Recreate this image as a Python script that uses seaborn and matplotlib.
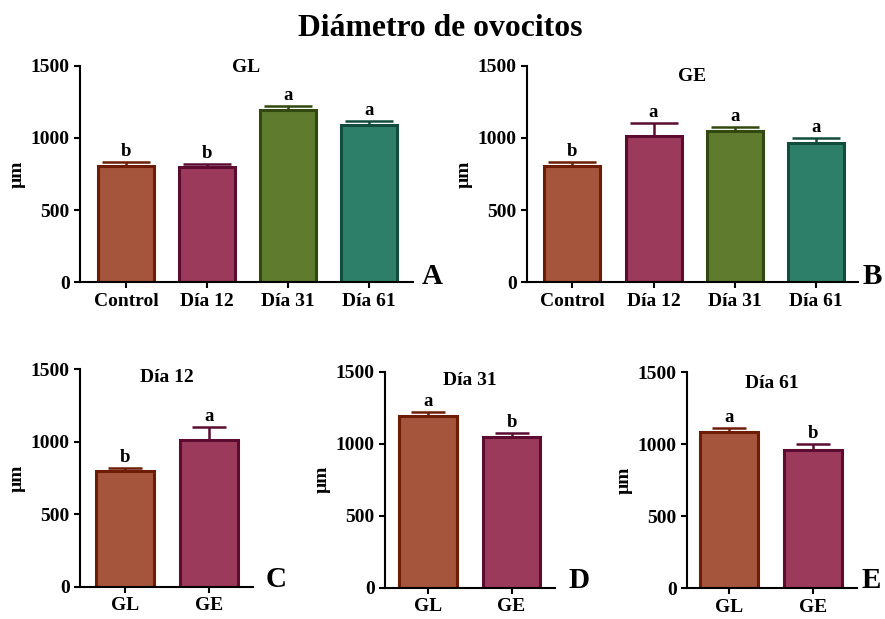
import numpy as np
import pandas as pd
import matplotlib
matplotlib.use("Agg")
import matplotlib.pyplot as plt
import seaborn as sns

# Datos (diametro medio de ovocitos, um)
dias = ["Control", "Día 12", "Día 31", "Día 61"]
gl_media = [805, 797, 1190, 1088]
gl_error = [30, 20, 32, 28]
gl_letras = ["b", "b", "a", "a"]
ge_media = [805, 1015, 1045, 962]
ge_error = [30, 85, 30, 40]
ge_letras = ["b", "a", "a", "a"]

grupos = ["GL", "GE"]
comparaciones = ["Día 12", "Día 31", "Día 61"]
comp_letras = [["b", "a"], ["a", "b"], ["a", "b"]]

# estilo
FILL = ["#A4553B", "#9C3A5C", "#5F7B2E", "#2E7F69"]
EDGE = ["#6E1C05", "#5B0C30", "#31480F", "#124C3C"]
FS = 14

sns.set_style("ticks")
plt.rcParams['font.family'] = ['Liberation Serif', 'DejaVu Serif']
plt.rcParams['font.weight'] = 'bold'
plt.rcParams['text.color'] = 'black'
plt.rcParams['axes.labelcolor'] = 'black'
plt.rcParams['xtick.color'] = 'black'
plt.rcParams['ytick.color'] = 'black'


def draw_panel(ax, cats, medias, errores, letras, fills, edges, titulo, xlim,
               capsize, width_px, title_y=0.99):
    df = pd.DataFrame({"cat": cats, "val": medias})
    sns.barplot(data=df, x="cat", y="val", hue="cat", palette=fills,
                legend=False, ax=ax, width=0.69, saturation=1,
                linewidth=2.2, errorbar=None)
    for patch, ec in zip(ax.patches, edges):
        patch.set_edgecolor(ec)
        patch.set_zorder(2)
    for i, (m, e, l) in enumerate(zip(medias, errores, letras)):
        ax.errorbar(i, m, yerr=[[0], [e]], color=edges[i], capsize=capsize,
                    elinewidth=1.8, capthick=1.8, zorder=1, fmt="none")
        ax.annotate(l, (i, m + e), xytext=(0, 1.5), textcoords="offset points",
                    ha="center", va="bottom", fontsize=13.5, fontweight="bold")
    ax.set_ylim(0, 1500)
    ax.set_xlim(*xlim)
    ax.set_yticks([0, 500, 1000, 1500])
    ax.set_xlabel("")
    ax.set_ylabel("µm", fontsize=14, fontweight="bold")
    ax.yaxis.set_label_coords(-54 / width_px, 0.5)
    ax.tick_params(axis="both", labelsize=FS, width=1.5, length=4.5, pad=3)
    for lab in ax.get_xticklabels() + ax.get_yticklabels():
        lab.set_fontweight("bold")
    sns.despine(ax=ax)
    for s in ["left", "bottom"]:
        ax.spines[s].set_linewidth(1.5)
        ax.spines[s].set_color("black")
    ax.text(0.5, title_y, titulo, transform=ax.transAxes, ha="center",
            va="center", fontsize=FS, fontweight="bold")


W, H = 885, 619
fig = plt.figure(figsize=(W / 100, H / 100), dpi=100)


def px_axes(left, right, top, bottom):
    return fig.add_axes([left / W, (H - bottom) / H, (right - left) / W,
                         (bottom - top) / H])


axA = px_axes(80, 413, 65.7, 282.3)
axB = px_axes(527, 858, 65.7, 282.3)
axC = px_axes(80, 253, 369.3, 586.7)
axD = px_axes(385, 555, 371.7, 587.7)
axE = px_axes(687, 857, 372.3, 588.3)

draw_panel(axA, dias, gl_media, gl_error, gl_letras, FILL, EDGE, "GL",
           (-0.57, 3.54), 17, 333, title_y=0.99)
draw_panel(axB, dias, ge_media, ge_error, ge_letras, FILL, EDGE, "GE",
           (-0.56, 3.52), 17, 331, title_y=0.948)

for ax, dia, letras, xl, wpx, ty in zip([axC, axD, axE], comparaciones, comp_letras,
                                        [(-0.54, 1.53), (-0.515, 1.52), (-0.50, 1.53)],
                                        [173, 170, 170], [0.96, 0.957, 0.95]):
    k = dias.index(dia)
    draw_panel(ax, grupos, [gl_media[k], ge_media[k]],
               [gl_error[k], ge_error[k]], letras, FILL[:2], EDGE[:2], dia,
               xl, 12, wpx, title_y=ty)

# letras de panel
for lab, x, y in [("A", 432, 284), ("B", 872, 284), ("C", 276, 587),
                  ("D", 579, 588), ("E", 871, 588)]:
    fig.text(x / W, (H - y) / H, lab, ha="center", va="baseline",
             fontsize=21, fontweight="bold")

fig.text(440 / W, (H - 36) / H, "Diámetro de ovocitos", ha="center",
         va="baseline", fontsize=22.8, fontweight="bold")

fig.savefig("out.png", dpi=100)
